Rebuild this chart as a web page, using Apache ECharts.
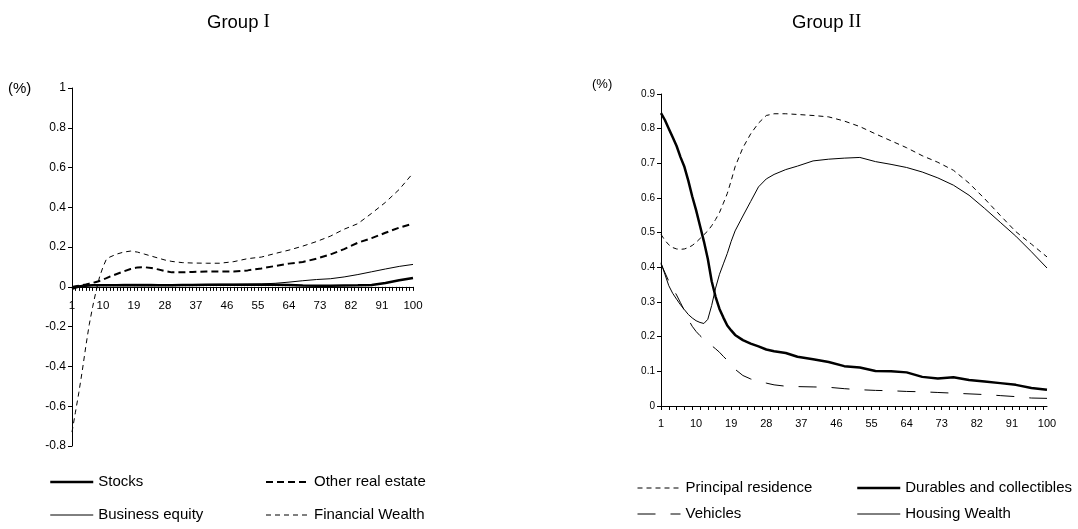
<!DOCTYPE html>
<html>
<head>
<meta charset="utf-8">
<script src="https://cdn.jsdelivr.net/npm/echarts@6/dist/echarts.min.js"></script>
<style>
html,body{margin:0;padding:0;background:#fff;}
#chart{width:1078px;height:529px;}
</style>
</head>
<body>
<div id="chart"></div>
<script>
// ---- categories (percentiles 1..100) ----
var categories = [];
for (var i = 1; i <= 100; i++) categories.push(String(i));

// ---- Group I: sampled percentiles and values ----
var xsG1 = [1,2,3,4,5,6,7,8,9,10,11,12,14,16,18,20,22,24,26,28,30,33,36,40,44,48,52,56,60,64,68,72,76,80,84,88,92,96,100];
var stocks = [-0.01,-0.004,0.002,0.005,0.006,0.007,0.008,0.008,0.008,0.008,0.008,0.008,0.008,0.008,0.008,0.008,0.008,0.008,0.008,0.008,0.008,0.009,0.01,0.011,0.011,0.011,0.011,0.011,0.011,0.009,0.007,0.006,0.006,0.007,0.008,0.01,0.02,0.033,0.045];
var businessEquity = [0,0.002,0.004,0.006,0.007,0.008,0.009,0.01,0.011,0.011,0.011,0.012,0.012,0.013,0.013,0.013,0.013,0.013,0.012,0.012,0.012,0.012,0.012,0.012,0.013,0.013,0.014,0.015,0.018,0.024,0.031,0.037,0.041,0.05,0.062,0.076,0.09,0.103,0.113];
var otherRealEstate = [0,0.003,0.006,0.009,0.012,0.016,0.02,0.025,0.03,0.037,0.044,0.052,0.065,0.078,0.09,0.098,0.099,0.095,0.088,0.079,0.073,0.073,0.075,0.077,0.077,0.077,0.083,0.093,0.105,0.117,0.125,0.142,0.163,0.19,0.222,0.245,0.272,0.298,0.318];
var financialWealth = [-0.73,-0.63,-0.53,-0.42,-0.30,-0.19,-0.10,-0.02,0.05,0.10,0.14,0.15,0.165,0.175,0.18,0.175,0.165,0.155,0.145,0.135,0.128,0.122,0.12,0.119,0.119,0.127,0.142,0.15,0.168,0.185,0.205,0.228,0.255,0.29,0.318,0.37,0.425,0.49,0.572];

// ---- Group II: sampled percentiles and values ----
var xsG2 = [1,2,3,4,5,6,7,8,9,10,11,12,13,14,15,16,17,18,19,20,22,24,26,28,30,33,36,40,44,48,52,56,60,64,68,72,76,80,84,88,92,96,100];
var principalResidence = [0.495,0.478,0.465,0.457,0.453,0.452,0.453,0.457,0.463,0.472,0.483,0.494,0.505,0.52,0.538,0.558,0.585,0.613,0.65,0.69,0.745,0.785,0.816,0.838,0.843,0.843,0.841,0.838,0.834,0.822,0.806,0.785,0.765,0.745,0.722,0.703,0.68,0.643,0.598,0.55,0.503,0.467,0.43];
var durables = [0.845,0.825,0.8,0.775,0.75,0.718,0.69,0.65,0.605,0.565,0.52,0.475,0.425,0.36,0.315,0.28,0.255,0.232,0.218,0.205,0.19,0.18,0.172,0.163,0.158,0.153,0.142,0.135,0.127,0.115,0.111,0.101,0.1,0.097,0.084,0.079,0.083,0.075,0.071,0.066,0.061,0.052,0.047];
var vehicles = [0.41,0.385,0.36,0.34,0.32,0.298,0.275,0.25,0.23,0.215,0.203,0.192,0.183,0.174,0.165,0.155,0.143,0.132,0.12,0.106,0.088,0.078,0.071,0.066,0.061,0.057,0.056,0.055,0.054,0.05,0.047,0.045,0.044,0.042,0.041,0.039,0.037,0.035,0.033,0.03,0.027,0.023,0.022];
var housingWealth = [0.413,0.38,0.347,0.325,0.308,0.292,0.278,0.264,0.254,0.246,0.241,0.238,0.25,0.29,0.34,0.38,0.41,0.44,0.475,0.505,0.548,0.59,0.632,0.655,0.668,0.682,0.692,0.707,0.712,0.715,0.717,0.705,0.697,0.688,0.675,0.658,0.637,0.608,0.57,0.53,0.49,0.445,0.398];

function pairs(xs, ys) {
  return xs.map(function (x, k) { return [x - 1, ys[k]]; });
}

var SANS = "'Liberation Sans',Arial,sans-serif";
var SERIF = "'Liberation Serif','Times New Roman',serif";

function fmt(v) { return String(+v.toFixed(1)); }

function xAxisCfg(gridIndex, tickInterval, fontSize, margin) {
  return {
    type: 'category', gridIndex: gridIndex, data: categories, boundaryGap: false,
    axisLine: { onZero: true, lineStyle: { color: '#000', width: 1 } },
    axisTick: { interval: tickInterval, length: 4, lineStyle: { color: '#000' } },
    axisLabel: { interval: 8, color: '#000', fontFamily: SANS, fontSize: fontSize, margin: margin },
    splitLine: { show: false }
  };
}
function yAxisCfg(gridIndex, min, max, interval, fontSize) {
  return {
    type: 'value', gridIndex: gridIndex, min: min, max: max, interval: interval,
    axisLine: { show: true, lineStyle: { color: '#000', width: 1 } },
    axisTick: { show: true, length: 4, lineStyle: { color: '#000' } },
    axisLabel: { color: '#000', fontFamily: SANS, fontSize: fontSize, margin: 6, formatter: fmt },
    splitLine: { show: false }
  };
}
function lineSeries(name, xi, yi, data, width, type) {
  return {
    name: name, type: 'line', xAxisIndex: xi, yAxisIndex: yi, data: data,
    symbol: 'none', silent: true, animation: false,
    lineStyle: { color: '#000', width: width, type: type },
    itemStyle: { color: '#000' }
  };
}
function legendCfg(names, left, top, gap) {
  return {
    orient: 'vertical', left: left, top: top, padding: 0,
    itemWidth: 43, itemHeight: 14, itemGap: gap,
    data: names, selectedMode: false,
    itemStyle: { opacity: 0 },
    lineStyle: { width: 'inherit', type: 'inherit', color: 'inherit' },
    textStyle: { color: '#000', fontFamily: SANS, fontSize: 15, lineHeight: 18 }
  };
}

var titleRich = {
  a: { fontFamily: SANS, fontSize: 18.5, fontWeight: 'normal', color: '#000' },
  b: { fontFamily: SERIF, fontSize: 19, fontWeight: 'normal', color: '#000' }
};

var option = {
  backgroundColor: '#fff',
  animation: false,
  title: [
    { text: '{a|Group }{b|I}', left: 202, top: 8, textStyle: { fontWeight: 'normal', rich: titleRich } },
    { text: '{a|Group }{b|II}', left: 787, top: 8, textStyle: { fontWeight: 'normal', rich: titleRich } }
  ],
  graphic: [
    { type: 'text', left: 8, top: 81, style: { text: '(%)', fontFamily: SANS, fontSize: 15, fill: '#000' } },
    { type: 'text', left: 592, top: 78, style: { text: '(%)', fontFamily: SANS, fontSize: 13, fill: '#000' } }
  ],
  grid: [
    { left: 72, top: 88, width: 341, height: 358 },
    { left: 661, top: 94, width: 386, height: 312 }
  ],
  xAxis: [ xAxisCfg(0, 0, 11.5, -146), xAxisCfg(1, 1, 11, 12) ],
  yAxis: [ yAxisCfg(0, -0.8, 1, 0.2, 12), yAxisCfg(1, 0, 0.9, 0.1, 10) ],
  legend: [
    legendCfg(['Stocks', 'Business equity'], 49, 473, 15),
    legendCfg(['Other real estate', 'Financial Wealth'], 265, 473, 15),
    legendCfg(['Principal residence', 'Vehicles'], 637, 479, 8),
    legendCfg(['Durables and collectibles', 'Housing Wealth'], 856, 479, 8)
  ],
  series: [
    lineSeries('Stocks', 0, 0, pairs(xsG1, stocks), 2.5, 'solid'),
    lineSeries('Business equity', 0, 0, pairs(xsG1, businessEquity), 1, 'solid'),
    lineSeries('Other real estate', 0, 0, pairs(xsG1, otherRealEstate), 2, [7, 4]),
    lineSeries('Financial Wealth', 0, 0, pairs(xsG1, financialWealth), 1, [5, 4]),
    lineSeries('Principal residence', 1, 1, pairs(xsG2, principalResidence), 1, [5, 4]),
    lineSeries('Durables and collectibles', 1, 1, pairs(xsG2, durables), 2.5, 'solid'),
    lineSeries('Vehicles', 1, 1, pairs(xsG2, vehicles), 1, [18, 15]),
    lineSeries('Housing Wealth', 1, 1, pairs(xsG2, housingWealth), 1, 'solid')
  ]
};

var chart = echarts.init(document.getElementById('chart'), null, { renderer: 'canvas' });
chart.setOption(option);
</script>
</body>
</html>
